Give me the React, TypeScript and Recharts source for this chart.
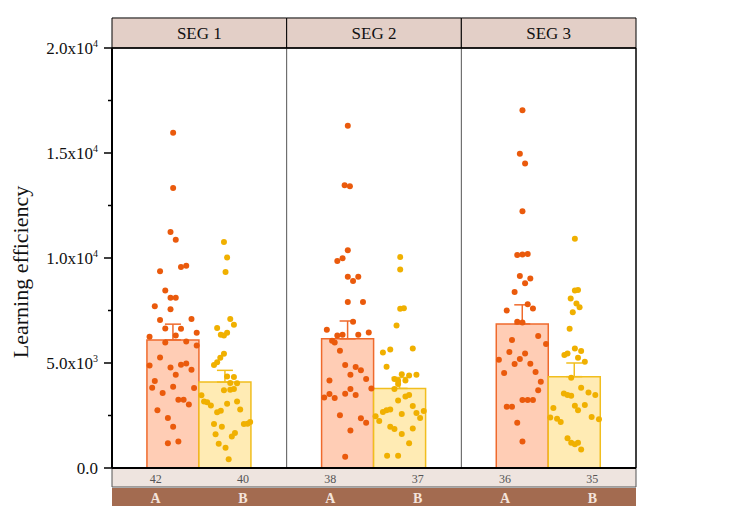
import React from 'react';
import {
  ComposedChart,
  Bar,
  Scatter,
  XAxis,
  YAxis,
  ErrorBar,
  ReferenceArea,
  ReferenceLine,
} from 'recharts';

const FONT = '"Liberation Serif", "Times New Roman", serif';

const segments = ['SEG 1', 'SEG 2', 'SEG 3'];
const groups = ['A', 'B'];
const meanA = [6100, 6150, 6860];
const meanB = [4090, 3790, 4350];
const errA = [750, 850, 910];
const errB = [560, 520, 650];
const countsA = [42, 38, 36];
const countsB = [40, 37, 35];

const yTicks = [0, 2500, 5000, 7500, 10000, 12500, 15000, 17500, 20000];
const yTickLabels: Record<number, [string, string]> = {
  0: ['0.0', ''],
  5000: ['5.0x10', '3'],
  10000: ['1.0x10', '4'],
  15000: ['1.5x10', '4'],
  20000: ['2.0x10', '4'],
};

// individual points: [horizontal jitter in bar widths, value in thousands]
const seg1A = [
  [0, 15.97], [0, 13.33], [-0.05, 11.24], [0.05, 10.87], [0.15, 9.57], [0.25, 9.63],
  [-0.25, 9.37], [-0.15, 8.45], [-0.05, 8.11], [0.05, 8.11], [-0.35, 7.7], [-0.05, 7.56],
  [-0.25, 7.05], [0.35, 7.09], [-0.15, 6.64], [0.15, 6.63], [0.45, 6.44], [-0.45, 6.25],
  [0.05, 6.31], [-0.15, 5.98], [0.25, 6.02], [0.45, 5.83], [-0.25, 5.26], [-0.45, 4.88],
  [-0.05, 4.79], [0.15, 4.92], [0.25, 4.98], [0.35, 4.68], [0.05, 4.44], [-0.35, 4.14],
  [-0.4, 3.82], [0, 3.87], [0.4, 3.81], [-0.2, 3.57], [0.1, 3.25], [0.2, 3.25],
  [0.3, 3.02], [-0.3, 2.75], [-0.1, 2.38], [0, 1.97], [-0.1, 1.18], [0.1, 1.26],
];
const seg1B = [
  [-0.03, 10.76], [0.03, 10.02], [0, 9.33], [0.09, 7.09], [0.16, 6.82], [-0.16, 6.67],
  [-0.09, 6.34], [-0.03, 6.31], [0.03, 6.44], [-0.03, 5.44], [-0.1, 5.25], [-0.16, 5.03],
  [-0.22, 4.9], [0.03, 4.36], [0.16, 4.33], [0.09, 4.05], [0.22, 4.03], [-0.03, 3.7],
  [0.09, 3.73], [0.16, 3.76], [-0.46, 3.46], [-0.41, 3.17], [-0.35, 3.13], [-0.28, 2.98],
  [0.03, 3.06], [0.22, 3.17], [0.28, 2.79], [-0.16, 2.65], [-0.09, 2.73], [-0.22, 2.1],
  [-0.07, 1.97], [0.35, 2.1], [0.42, 2.11], [0.47, 2.19], [-0.19, 1.61], [0.12, 1.5],
  [0.18, 1.67], [-0.13, 1.16], [0, 0.96], [0.06, 0.42],
];
const seg2A = [
  [0, 16.3], [-0.06, 13.47], [0.04, 13.42], [0, 10.37], [-0.1, 9.99], [-0.2, 9.86],
  [0, 9.11], [0.1, 8.91], [0.2, 9.11], [0, 7.91], [0.29, 7.9], [0.1, 6.97],
  [-0.4, 6.58], [-0.2, 6.31], [-0.1, 6.34], [0.2, 6.34], [0.4, 6.45], [-0.3, 6.06],
  [-0.25, 5.98], [-0.15, 5.58], [-0.05, 4.9], [0.15, 4.81], [0.25, 4.66], [0.05, 4.44],
  [-0.35, 4.17], [0.35, 4.24], [0.45, 3.79], [0.05, 3.76], [-0.05, 3.54], [0.15, 3.48],
  [-0.35, 3.52], [-0.45, 3.36], [-0.25, 3.33], [-0.15, 2.51], [0.25, 2.37], [0.35, 2.15],
  [0.05, 1.78], [-0.05, 0.53],
];
const seg2B = [
  [0, 10.05], [0, 9.45], [0, 7.58], [0.07, 7.61], [-0.07, 6.78], [-0.33, 5.5],
  [-0.19, 5.64], [0.24, 5.69], [-0.26, 4.82], [0.03, 4.46], [0.17, 4.41], [0.31, 4.44],
  [-0.11, 4.24], [-0.04, 4.16], [0.1, 4.17], [-0.04, 4.0], [-0.11, 3.76], [0.1, 3.41],
  [0.17, 3.48], [-0.04, 3.21], [0.24, 2.95], [-0.33, 2.67], [-0.26, 2.75], [-0.19, 2.78],
  [0.03, 2.57], [0.31, 2.62], [0.38, 2.38], [0.45, 2.72], [-0.47, 2.46], [-0.4, 2.24],
  [-0.19, 1.96], [-0.11, 1.86], [0.24, 1.88], [0.03, 1.62], [0.17, 1.18], [-0.25, 0.58],
  [-0.04, 0.58],
];
const seg3A = [
  [0, 17.03], [-0.05, 14.97], [0.05, 14.5], [0, 12.23], [-0.1, 10.14], [0, 10.17],
  [0.1, 10.19], [-0.05, 9.14], [0.15, 9.02], [0.05, 8.8], [-0.15, 8.38], [0.1, 7.8],
  [0.2, 7.59], [-0.3, 7.5], [-0.1, 6.97], [0, 6.93], [0.3, 6.28], [-0.2, 6.09],
  [0.45, 5.91], [-0.25, 5.52], [0.05, 5.45], [-0.45, 5.15], [-0.05, 5.19], [-0.15, 4.95],
  [0.15, 4.96], [-0.35, 4.52], [0.25, 4.57], [0.35, 4.11], [0.3, 3.7], [0, 3.24],
  [0.1, 3.24], [0.2, 3.24], [-0.3, 2.92], [-0.2, 2.92], [-0.1, 2.16], [0, 1.26],
];
const seg3B = [
  [0, 10.92], [0, 8.45], [0.06, 8.48], [-0.08, 8.07], [0.03, 7.83], [0.09, 7.66],
  [-0.04, 7.42], [-0.1, 6.63], [0, 5.69], [-0.2, 5.38], [-0.14, 5.45], [0.12, 5.57],
  [0.06, 5.25], [0.19, 5.06], [-0.07, 4.3], [0.12, 3.82], [-0.21, 3.55], [-0.14, 3.48],
  [-0.07, 3.44], [0.26, 3.59], [0.39, 3.48], [0, 2.97], [0.06, 2.75], [0.19, 3.0],
  [-0.41, 2.86], [-0.47, 2.41], [-0.34, 2.34], [-0.27, 2.19], [0.32, 2.43], [0.46, 2.32],
  [-0.14, 1.42], [-0.07, 1.2], [0, 1.13], [0.06, 1.2], [0.12, 0.88],
];

const COLORS = {
  aPoint: '#EA5A0C',
  aFill: '#FFCDB5',
  aStroke: '#EF6A2C',
  bPoint: '#F0B000',
  bFill: '#FFEBB4',
  bStroke: '#F1BE1E',
  header: '#E3CFC7',
  countStrip: '#EEE4DF',
  groupStrip: '#A36B50',
};

// bars sit in the middle 60% of each segment, A then B
const BAR_W = 0.3;
const CENTER = [0.35, 0.65];

const toPoints = (pts: number[][], seg: number, g: number) =>
  pts.map(([j, v]) => ({ x: seg + CENTER[g] + j * BAR_W, y: v * 1000 }));

const barData = segments.map((seg, i) => ({
  seg,
  A: meanA[i],
  B: meanB[i],
  eA: [0, errA[i]],
  eB: [0, errB[i]],
}));

const scatterSets = [
  { data: toPoints(seg1A, 0, 0), color: COLORS.aPoint },
  { data: toPoints(seg1B, 0, 1), color: COLORS.bPoint },
  { data: toPoints(seg2A, 1, 0), color: COLORS.aPoint },
  { data: toPoints(seg2B, 1, 1), color: COLORS.bPoint },
  { data: toPoints(seg3A, 2, 0), color: COLORS.aPoint },
  { data: toPoints(seg3B, 2, 1), color: COLORS.bPoint },
];

const bottomTicks = segments.flatMap((_, i) => [i + 0.25, i + 0.75]);
const bottomCounts = segments.flatMap((_, i) => [countsA[i], countsB[i]]);

const YTick = (props: any) => {
  const { x, y, payload } = props;
  const label = yTickLabels[payload.value];
  const major = !!label;
  return (
    <g>
      <line x1={x - (major ? 8 : 4)} x2={x} y1={y} y2={y} stroke="#000" strokeWidth={1.5} />
      {label && (
        <text x={x - 14} y={y + 6} textAnchor="end" fontFamily={FONT} fontSize={17} fill="#111">
          {label[0]}
          {label[1] && (
            <tspan dy={-7} fontSize={10}>
              {label[1]}
            </tspan>
          )}
        </text>
      )}
    </g>
  );
};

const TopTick = (props: any) => {
  const { x, y, payload } = props;
  return (
    <text x={x} y={y - 9} textAnchor="middle" fontFamily={FONT} fontSize={17} fill="#111">
      {payload.value}
    </text>
  );
};

const BottomTick = (props: any) => {
  const { x, y, payload } = props;
  const idx = Math.round((payload.value - 0.25) * 2);
  return (
    <g>
      <text x={x} y={y + 15} textAnchor="middle" fontFamily={FONT} fontSize={12} fill="#555">
        {bottomCounts[idx]}
      </text>
      <text
        x={x}
        y={y + 35}
        textAnchor="middle"
        fontFamily={FONT}
        fontSize={14}
        fontWeight="bold"
        fill="#F4E4DC"
      >
        {groups[idx % 2]}
      </text>
    </g>
  );
};

const YLabel = (props: any) => {
  const { viewBox } = props;
  const cx = 28;
  const cy = viewBox.y + viewBox.height / 2 + 14;
  return (
    <text
      x={cx}
      y={cy}
      transform={`rotate(-90 ${cx} ${cy})`}
      textAnchor="middle"
      fontFamily={FONT}
      fontSize={22}
      fill="#111"
    >
      Learning efficiency
    </text>
  );
};

export default function App() {
  return (
    <div style={{ width: 732, height: 506, background: '#fff' }}>
      <style>{'body{margin:0}'}</style>
      <ComposedChart
        width={732}
        height={506}
        data={barData}
        margin={{ top: 18, right: 96, bottom: 0, left: 0 }}
        barCategoryGap="20%"
        barGap={0}
      >
        <XAxis
          xAxisId="cat"
          dataKey="seg"
          orientation="top"
          height={30}
          tickLine={false}
          tickSize={0}
          tickMargin={0}
          axisLine={{ stroke: '#000', strokeWidth: 1.5 }}
          tick={<TopTick />}
        />
        <XAxis
          xAxisId="n"
          dataKey="x"
          type="number"
          domain={[0, 3]}
          allowDataOverflow
          ticks={bottomTicks}
          interval={0}
          height={38}
          tickLine={false}
          tickSize={0}
          tickMargin={0}
          axisLine={{ stroke: '#000', strokeWidth: 2 }}
          tick={<BottomTick />}
        />
        <YAxis
          width={112}
          domain={[0, 20000]}
          ticks={yTicks}
          interval={0}
          tickLine={false}
          tickSize={0}
          tickMargin={0}
          axisLine={{ stroke: '#000', strokeWidth: 2 }}
          tick={<YTick />}
          label={<YLabel />}
        />

        {segments.map((s, i) => (
          <ReferenceArea
            key={s}
            xAxisId="n"
            x1={i}
            x2={i + 1}
            y1={20000}
            y2={21430}
            ifOverflow="visible"
            fill={COLORS.header}
            fillOpacity={1}
            stroke="#000"
            strokeWidth={1}
          />
        ))}
        <ReferenceArea
          xAxisId="n"
          x1={0}
          x2={3}
          y1={-905}
          y2={0}
          ifOverflow="visible"
          fill={COLORS.countStrip}
          fillOpacity={1}
          stroke="#555"
          strokeWidth={1}
        />
        <ReferenceArea
          xAxisId="n"
          x1={0}
          x2={3}
          y1={-1950}
          y2={-952}
          ifOverflow="visible"
          fill={COLORS.groupStrip}
          fillOpacity={1}
          stroke="none"
        />
        <ReferenceLine xAxisId="n" x={1} stroke="#555" strokeWidth={1} />
        <ReferenceLine xAxisId="n" x={2} stroke="#555" strokeWidth={1} />
        <ReferenceLine xAxisId="n" x={3} stroke="#000" strokeWidth={1.5} />

        <Bar
          xAxisId="cat"
          dataKey="A"
          fill={COLORS.aFill}
          stroke={COLORS.aStroke}
          strokeWidth={1.5}
          isAnimationActive={false}
        >
          <ErrorBar dataKey="eA" width={8} stroke={COLORS.aStroke} strokeWidth={1.5} direction="y" />
        </Bar>
        <Bar
          xAxisId="cat"
          dataKey="B"
          fill={COLORS.bFill}
          stroke={COLORS.bStroke}
          strokeWidth={1.5}
          isAnimationActive={false}
        >
          <ErrorBar dataKey="eB" width={8} stroke={COLORS.bStroke} strokeWidth={1.5} direction="y" />
        </Bar>

        {scatterSets.map((set, i) => (
          <Scatter
            key={i}
            xAxisId="n"
            data={set.data}
            dataKey="y"
            isAnimationActive={false}
            shape={(p: any) => <circle cx={p.cx} cy={p.cy} r={3} fill={set.color} />}
          />
        ))}
      </ComposedChart>
    </div>
  );
}
